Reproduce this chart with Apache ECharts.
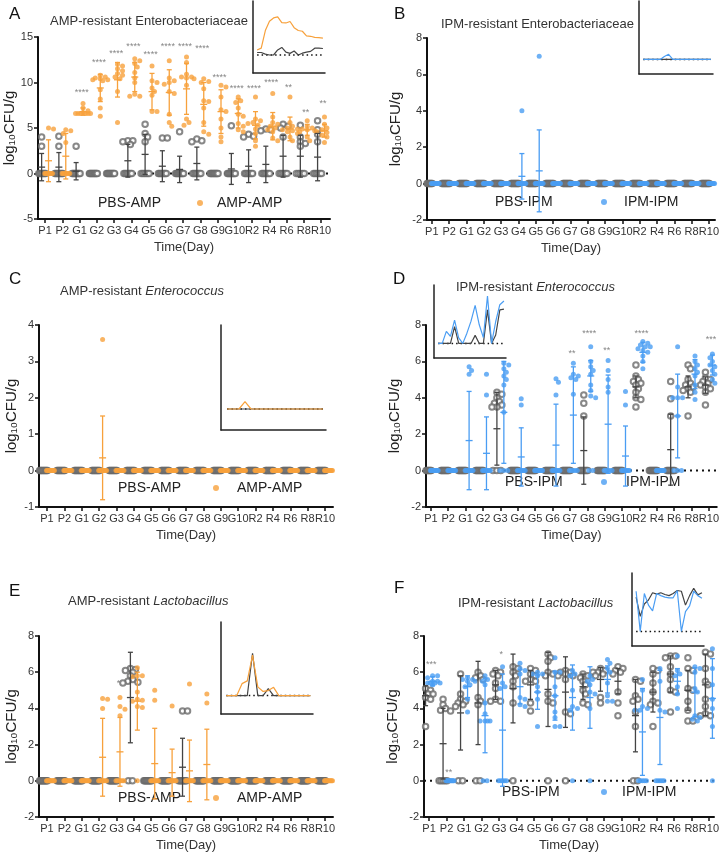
<!DOCTYPE html>
<html>
<head>
<meta charset="utf-8">
<script src="https://cdn.jsdelivr.net/npm/echarts@6/dist/echarts.min.js"></script>
<style>
html, body { margin: 0; background: #fff; }
#chart { width: 722px; height: 854px; }
</style>
</head>
<body>
<div id="chart"></div>
<script>
var days = ['P1', 'P2', 'G1', 'G2', 'G3', 'G4', 'G5', 'G6', 'G7', 'G8', 'G9', 'G10', 'R2', 'R4', 'R6', 'R8', 'R10'];

// A  AMP-resistant Enterobacteriaceae
var aPbsPts = [[4.0, 3.0], [4.1, 3.0], [3.0], [], [], [3.6, 3.6, 3.5, 3.2], [5.4, 4.4, 4.0, 3.5], [3.9, 3.9], [4.6], [3.8, 3.6, 3.5], [], [5.25], [4.3, 4.1, 4.0], [4.9, 4.8, 4.7], [5.4, 5.2, 5.0, 4.0], [5.3, 4.0, 3.5, 3.3, 3.0], [5.8, 4.8, 4.3, 3.5]];
var aPbsZeros = [8, 8, 9, 10, 10, 7, 6, 8, 9, 7, 10, 9, 7, 7, 6, 5, 6];
var aPbsMean = [0.7, 0.7, 0.25, 0, 0, 1.4, 2.1, 0.8, 0.45, 1.1, 0, 0.5, 0.8, 1.0, 1.9, 1.9, 1.8];
var aPbsSd = [1.5, 1.6, 0.95, 0, 0, 1.8, 2.2, 1.7, 1.45, 1.8, 0, 1.7, 1.8, 2.0, 2.3, 2.3, 2.6];
var aAmpPts = [[5.0, 4.9], [4.8, 4.7, 4.4, 3.4], [7.7, 7.2, 6.9, 6.7, 6.6, 6.6, 6.6, 6.6, 6.6, 6.6], [10.8, 10.6, 10.5, 10.4, 10.3, 10.3, 10.2, 9.2, 8.2, 7.2, 6.3], [12.0, 11.8, 11.5, 11.3, 11.0, 10.8, 10.6, 10.4, 9.0, 5.6], [12.6, 12.4, 12.1, 11.7, 11.1, 10.5, 10.0, 8.7, 8.5, 8.5], [11.8, 10.2, 10.0, 9.4, 9.0, 8.6, 6.8, 6.8], [12.4, 10.5, 10.2, 10.0, 9.8, 9.0, 8.8, 6.5, 5.6, 5.2], [12.8, 12.2, 10.9, 10.6, 10.6, 10.5, 10.4, 9.7, 6.0, 5.6, 5.3], [10.4, 10.1, 10.0, 9.3, 8.0, 7.9, 7.2, 5.6, 4.6, 4.3], [9.7, 9.5, 8.4, 7.0, 6.8, 6.0, 5.0, 4.0, 3.5], [8.4, 8.0, 7.8, 7.2, 6.5, 6.3, 5.5, 5.2, 4.8, 4.6], [8.4, 6.0, 5.8, 5.6, 5.5, 5.3, 4.9, 4.4, 3.6, 3.0], [8.8, 6.2, 5.6, 5.4, 5.2, 5.0, 4.8, 4.6, 3.9, 3.6], [8.4, 5.6, 5.2, 5.0, 4.9, 4.8, 4.7, 4.6, 4.4, 4.0, 3.6], [5.8, 5.2, 5.0, 4.9, 4.8, 4.7, 4.6, 4.0, 3.6], [6.2, 5.4, 5.0, 4.8, 4.7, 4.6, 4.5, 4.2, 4.0, 3.4]];
var aAmpZeros = [8, 7, 0, 0, 0, 0, 0, 0, 0, 0, 0, 0, 0, 0, 0, 0, 0];
var aAmpMean = [1.4, 1.9, 6.8, 9.4, 10.3, 10.6, 9.0, 8.9, 9.3, 7.6, 6.8, 6.6, 5.3, 5.2, 4.9, 4.8, 4.7];
var aAmpSd = [2.3, 2.5, 0.4, 1.5, 1.9, 1.6, 2.0, 2.5, 2.8, 2.4, 2.4, 1.6, 1.5, 1.5, 1.3, 0.6, 0.7];
var aStars = ['', '', '****', '****', '****', '****', '****', '****', '****', '****', '****', '****', '****', '****', '**', '**', '**'];
var aStarY = [0, 0, 8.9, 12.2, 13.2, 13.9, 13.1, 13.95, 14.0, 13.75, 10.55, 9.3, 9.3, 10.0, 9.4, 6.65, 7.65];

// B  IPM-resistant Enterobacteriaceae
var bPbsPts = [[], [], [], [], [], [], [], [], [], [], [], [], [], [], [], [], []];
var bPbsZeros = [10, 10, 10, 10, 10, 10, 10, 10, 10, 10, 10, 10, 10, 10, 10, 10, 10];
var bPbsMean = [0, 0, 0, 0, 0, 0, 0, 0, 0, 0, 0, 0, 0, 0, 0, 0, 0];
var bPbsSd = [0, 0, 0, 0, 0, 0, 0, 0, 0, 0, 0, 0, 0, 0, 0, 0, 0];
var bIpmPts = [[], [], [], [], [], [4.0], [7.0], [], [], [], [], [], [], [], [], [], []];
var bIpmZeros = [10, 10, 10, 10, 10, 9, 9, 10, 10, 10, 10, 10, 10, 10, 10, 10, 10];
var bIpmMean = [0, 0, 0, 0, 0, 0.4, 0.7, 0, 0, 0, 0, 0, 0, 0, 0, 0, 0];
var bIpmSd = [0, 0, 0, 0, 0, 1.25, 2.25, 0, 0, 0, 0, 0, 0, 0, 0, 0, 0];

// C  AMP-resistant Enterococcus
var cPbsPts = [[], [], [], [], [], [], [], [], [], [], [], [], [], [], [], [], []];
var cPbsZeros = [10, 10, 10, 10, 10, 10, 10, 10, 10, 10, 10, 10, 10, 10, 10, 10, 10];
var cPbsMean = [0, 0, 0, 0, 0, 0, 0, 0, 0, 0, 0, 0, 0, 0, 0, 0, 0];
var cPbsSd = [0, 0, 0, 0, 0, 0, 0, 0, 0, 0, 0, 0, 0, 0, 0, 0, 0];
var cAmpPts = [[], [], [], [3.6], [], [], [], [], [], [], [], [], [], [], [], [], []];
var cAmpZeros = [10, 10, 10, 9, 10, 10, 10, 10, 10, 10, 10, 10, 10, 10, 10, 10, 10];
var cAmpMean = [0, 0, 0, 0.35, 0, 0, 0, 0, 0, 0, 0, 0, 0, 0, 0, 0, 0];
var cAmpSd = [0, 0, 0, 1.15, 0, 0, 0, 0, 0, 0, 0, 0, 0, 0, 0, 0, 0];

// D  IPM-resistant Enterococcus
var dPbsPts = [[], [], [], [], [4.3, 4.2, 4.0, 3.8, 3.7, 3.6, 3.5, 3.5], [], [], [], [], [4.15, 3.7, 3.0], [], [], [5.8, 5.2, 5.0, 4.9, 4.8, 4.7, 4.5, 4.3, 4.0, 3.9, 3.5], [], [4.9, 3.95, 3.0], [5.8, 5.6, 5.0, 4.8, 4.7, 4.6, 4.5, 4.4, 4.3, 3.0], [5.4, 5.1, 5.0, 4.9, 4.8, 4.7, 4.6, 4.5, 4.3, 3.6]];
var dPbsZeros = [10, 10, 10, 10, 3, 10, 10, 10, 10, 8, 10, 10, 0, 10, 8, 0, 0];
var dPbsMean = [0, 0, 0, 0, 2.3, 0, 0, 0, 0, 1.1, 0, 0, 4.6, 0, 1.15, 4.6, 4.7];
var dPbsSd = [0, 0, 0, 0, 2.0, 0, 0, 0, 0, 1.85, 0, 0, 0.6, 0, 1.95, 0.6, 0.45];
var dIpmPts = [[], [], [5.7, 5.5, 5.3], [5.3, 4.15], [5.9, 5.8, 5.6, 5.4, 5.2, 5.0, 4.7, 3.2], [3.95, 3.6], [], [5.05, 4.85, 4.15], [5.9, 5.3, 5.2, 5.1, 5.0, 4.2], [6.8, 6.0, 5.7, 5.5, 5.3, 4.7, 4.4, 4.1, 4.0], [6.05, 5.5, 5.0, 4.6, 4.3], [4.35, 3.6], [7.1, 7.0, 6.9, 6.8, 6.8, 6.7, 6.6, 6.5, 6.3, 6.0, 5.6], [], [6.8, 4.6, 4.0, 4.0, 4.0, 3.0], [6.3, 6.0, 5.8, 5.6, 5.4, 5.2, 4.7, 4.3, 3.9], [6.4, 6.3, 6.2, 6.0, 5.9, 5.8, 5.7, 5.5, 5.3, 5.0, 4.8]];
var dIpmZeros = [10, 10, 8, 8, 3, 8, 10, 8, 5, 2, 5, 8, 0, 10, 3, 0, 0];
var dIpmMean = [0, 0, 1.65, 0.95, 3.2, 0.75, 0, 1.4, 3.05, 5.2, 2.55, 0.8, 6.5, 0, 3.0, 5.3, 5.8];
var dIpmSd = [0, 0, 2.7, 2.0, 2.8, 1.6, 0, 2.25, 2.65, 0.85, 2.7, 1.65, 0.55, 0, 2.3, 0.8, 0.55];
var dStars = ['', '', '', '', '', '', '', '', '**', '****', '**', '', '****', '', '', '', '***'];
var dStarY = [0, 0, 0, 0, 0, 0, 0, 0, 6.45, 7.55, 6.6, 0, 7.55, 0, 0, 0, 7.2];

// E  AMP-resistant Lactobacillus
var ePbsPts = [[], [], [], [], [], [6.2, 6.15, 6.1, 6.0, 5.8, 5.6, 5.5, 5.45, 5.4], [], [], [3.85, 3.85], [], [], [], [], [], [], [], []];
var ePbsZeros = [10, 10, 10, 10, 10, 2, 10, 10, 8, 10, 10, 10, 10, 10, 10, 10, 10];
var ePbsMean = [0, 0, 0, 0, 0, 4.6, 0, 0, 0.75, 0, 0, 0, 0, 0, 0, 0, 0];
var ePbsSd = [0, 0, 0, 0, 0, 2.5, 0, 0, 1.6, 0, 0, 0, 0, 0, 0, 0, 0];
var eAmpPts = [[], [], [], [4.55, 4.5, 4.0], [4.6, 4.1, 3.95, 3.6], [6.25, 5.8, 5.8, 5.75, 4.9, 4.5, 4.45, 4.4, 4.1, 4.05], [5.0, 4.45], [4.13], [5.35], [4.8, 4.3], [], [], [], [], [], [], []];
var eAmpZeros = [10, 10, 10, 7, 6, 1, 8, 9, 9, 8, 10, 10, 10, 10, 10, 10, 10];
var eAmpMean = [0, 0, 0, 1.3, 1.6, 4.4, 0.95, 0.45, 0.55, 0.9, 0, 0, 0, 0, 0, 0, 0];
var eAmpSd = [0, 0, 0, 2.15, 1.9, 1.6, 1.95, 1.3, 1.7, 1.95, 0, 0, 0, 0, 0, 0, 0];
var eStars = ['', '', '', '', '*', '', '', '', '', '', '', '', '', '', '', '', ''];
var eStarY = [0, 0, 0, 0, 5.35, 0, 0, 0, 0, 0, 0, 0, 0, 0, 0, 0, 0];

// F  IPM-resistant Lactobacillus
var fPbsPts = [[5.1, 5.0, 4.9, 4.8, 4.8, 4.7, 4.6, 4.5, 3.0], [4.5, 4.2, 4.0, 3.9, 3.85], [5.9, 4.8, 4.5, 4.4, 4.3, 4.2, 4.1], [6.0, 5.8, 5.7, 5.6, 4.6, 4.4, 4.2], [6.1, 6.0, 5.9, 5.8, 5.4, 5.1, 4.5, 4.4, 4.4], [6.3, 6.2, 6.0, 5.8, 5.5, 5.2, 4.3], [6.2, 6.1, 5.9, 5.8, 5.6, 5.5, 5.5, 4.3, 3.85], [7.0, 6.8, 6.6, 6.0, 5.9, 5.8, 4.8, 4.4, 4.3], [6.1, 6.0, 6.0, 5.9, 5.8, 5.8, 5.6, 3.8, 3.7], [5.9, 5.8, 5.7, 5.5, 5.3, 5.0, 4.8, 4.3, 4.2], [6.2, 6.1, 6.0, 6.0, 5.9, 5.8, 4.6, 4.3], [6.3, 6.2, 6.1, 6.0, 5.9, 4.9, 4.3, 3.6], [5.6, 5.5, 4.7, 4.5, 4.4, 3.8, 3.0], [6.2, 6.1, 5.9, 5.4, 4.9, 4.4, 4.3, 4.2, 3.0], [6.9, 6.9, 6.8, 6.3, 5.9, 5.6, 5.0, 4.9, 3.8], [6.8, 6.2, 6.1, 5.1, 5.0, 4.4, 3.9, 3.3, 3.3], [7.1, 7.0, 6.2, 5.5, 5.3, 4.5, 4.1, 3.7, 3.6, 3.6]];
var fPbsZeros = [0, 5, 2, 2, 0, 1, 0, 1, 1, 0, 0, 0, 2, 0, 0, 0, 0];
var fPbsMean = [4.7, 2.05, 3.75, 4.3, 5.3, 5.1, 5.3, 5.05, 4.9, 5.2, 5.6, 5.5, 3.6, 4.9, 5.9, 5.0, 5.3];
var fPbsSd = [0.55, 1.95, 2.05, 2.3, 0.8, 1.9, 0.8, 2.05, 1.95, 0.7, 0.65, 0.7, 2.0, 1.1, 1.0, 1.1, 1.7];
var fIpmPts = [[5.8, 5.8, 5.7, 5.5, 5.5, 5.4, 5.4, 5.4, 5.4, 5.3], [], [5.7, 5.6, 5.6, 5.5, 5.5, 5.3, 5.2, 4.5, 3.8], [5.8, 5.6, 5.5, 5.3, 4.3, 3.7, 3.3, 3.3, 3.3, 3.3], [6.3, 5.4, 5.2, 5.1], [6.5, 6.2, 6.1, 5.9, 4.6, 4.5, 4.2, 4.1], [6.0, 5.9, 5.9, 5.8, 5.2, 4.9, 4.5, 3.0], [6.8, 6.0, 6.0, 5.2, 4.7, 3.8, 3.5, 3.0, 3.0], [6.1, 5.9, 5.8, 5.0, 4.1, 4.0, 3.9], [5.8, 5.6, 5.5, 5.3, 4.9, 4.8, 4.0], [6.7, 6.5, 6.2, 6.0, 5.4, 4.7, 4.4, 4.4], [], [5.6, 5.0, 4.1, 4.0, 3.9, 3.9], [6.2, 5.5, 3.9, 3.8], [6.9, 6.1, 5.9, 5.8, 5.2, 4.8, 4.0], [6.3, 6.2, 6.0, 5.1, 4.9, 3.6, 3.5, 3.4, 3.3], [7.3, 7.2, 6.2, 5.3, 4.5, 4.0, 3.0]];
var fIpmZeros = [0, 10, 0, 2, 5, 0, 0, 0, 1, 1, 0, 0, 5, 5, 0, 0, 1];
var fIpmMean = [5.5, 0, 5.2, 3.6, 2.8, 5.2, 4.9, 4.7, 4.6, 4.6, 5.6, 0, 2.7, 3.5, 5.5, 4.9, 4.55];
var fIpmSd = [0.25, 0, 0.6, 2.05, 3.1, 0.95, 0.95, 1.35, 1.8, 1.7, 0.75, 0, 2.4, 2.6, 0.7, 1.35, 2.2];
var fStars = ['***', '**', '', '', '*', '', '', '', '', '', '', '', '', '', '', '', ''];
var fStarY = [6.4, 0.45, 0, 0, 6.95, 0, 0, 0, 0, 0, 0, 0, 0, 0, 0, 0, 0];

var FONT = '"Liberation Sans", Arial, sans-serif';
var ORANGE = '#f7a13c', BLUE = '#4a9df3', GREY = '#6a6a6a', DARK = '#444';

var panels = [
    {grid: {left: 38, top: 37, width: 292, height: 182}, xr: [-0.41, 16.52], yr: [-5, 15, 5], nameGap: 20,
        inset: {left: 253, top: 1, width: 72, height: 72}, ctrl: 'PBS-AMP', trt: 'AMP-AMP', color: ORANGE,
        pbs: [aPbsPts, aPbsZeros, aPbsMean, aPbsSd], tr: [aAmpPts, aAmpZeros, aAmpMean, aAmpSd],
        stars: aStars, starY: aStarY, leg: [[85, 204, 97], [200, 204, 217]]},
    {grid: {left: 427, top: 38, width: 292, height: 182}, xr: [-0.28, 16.35], yr: [-2, 8, 2], nameGap: 24,
        inset: {left: 639, top: 1, width: 74, height: 73}, ctrl: 'PBS-IPM', trt: 'IPM-IPM', color: BLUE,
        pbs: [bPbsPts, bPbsZeros, bPbsMean, bPbsSd], tr: [bIpmPts, bIpmZeros, bIpmMean, bIpmSd],
        stars: null, starY: null, leg: [[479, 203, 494], [604, 203, 624]]},
    {grid: {left: 39, top: 325, width: 294, height: 182}, xr: [-0.46, 16.46], yr: [-1, 4, 1], nameGap: 20,
        inset: {left: 221, top: 325, width: 105, height: 105}, ctrl: 'PBS-AMP', trt: 'AMP-AMP', color: ORANGE,
        pbs: [cPbsPts, cPbsZeros, cPbsMean, cPbsSd], tr: [cAmpPts, cAmpZeros, cAmpMean, cAmpSd],
        stars: null, starY: null, leg: [[96, 489, 117], [216, 489, 237]]},
    {grid: {left: 426, top: 325, width: 295, height: 182}, xr: [-0.28, 16.45], yr: [-2, 8, 2], nameGap: 24,
        inset: {left: 434, top: 285, width: 72, height: 73}, ctrl: 'PBS-IPM', trt: 'IPM-IPM', color: BLUE,
        pbs: [dPbsPts, dPbsZeros, dPbsMean, dPbsSd], tr: [dIpmPts, dIpmZeros, dIpmMean, dIpmSd],
        stars: dStars, starY: dStarY, leg: [[483, 483, 504], [604, 483, 626]]},
    {grid: {left: 39, top: 636, width: 294, height: 181}, xr: [-0.46, 16.46], yr: [-2, 8, 2], nameGap: 20,
        inset: {left: 221, top: 622, width: 92, height: 92}, ctrl: 'PBS-AMP', trt: 'AMP-AMP', color: ORANGE,
        pbs: [ePbsPts, ePbsZeros, ePbsMean, ePbsSd], tr: [eAmpPts, eAmpZeros, eAmpMean, eAmpSd],
        stars: eStars, starY: eStarY, leg: [[96, 799, 117], [216, 799, 237]]},
    {grid: {left: 424, top: 636, width: 290, height: 181}, xr: [-0.29, 16.29], yr: [-2, 8, 2], nameGap: 24,
        inset: {left: 632, top: 573, width: 72, height: 73}, ctrl: 'PBS-IPM', trt: 'IPM-IPM', color: BLUE,
        pbs: [fPbsPts, fPbsZeros, fPbsMean, fPbsSd], tr: [fIpmPts, fIpmZeros, fIpmMean, fIpmSd],
        stars: fStars, starY: fStarY, leg: [[480, 793, 501], [604, 793, 622]]}
];

var titles = [
    ['A', 9, 6, 17], ['B', 394, 6, 17], ['C', 9, 271, 17], ['D', 393, 271, 17], ['E', 9, 583, 17], ['F', 394, 580, 17],
    ['AMP-resistant Enterobacteriaceae', 50, 15, 13], ['IPM-resistant Enterobacteriaceae', 441, 18, 13],
    ['AMP-resistant {i|Enterococcus}', 60, 285, 13], ['IPM-resistant {i|Enterococcus}', 456, 281, 13],
    ['AMP-resistant {i|Lactobacillus}', 68, 595, 13], ['IPM-resistant {i|Lactobacillus}', 458, 597, 13]
];

// simple beeswarm: zeros packed in a short row, other values nudged sideways when they overlap
function swarm(vals, zeros, cx, sx, sy) {
    var out = [];
    if (zeros > 0) {
        var span = Math.min(4 * (zeros - 1), 8);
        for (var k = 0; k < zeros; k++) {
            var dx = zeros > 1 ? -span / 2 + span * k / (zeros - 1) : 0;
            out.push([cx + dx / sx, 0]);
        }
    }
    var placed = [];
    var tries = [0, 2.5, -2.5, 5, -5, 7.5, -7.5];
    vals.slice().sort(function (a, b) { return b - a; }).forEach(function (v) {
        var py = v * sy, best = 0, bestD = -1;
        for (var t = 0; t < tries.length; t++) {
            var dmin = 1e9;
            placed.forEach(function (p) {
                var ddx = p[0] - tries[t], ddy = p[1] - py;
                dmin = Math.min(dmin, Math.sqrt(ddx * ddx + ddy * ddy));
            });
            if (dmin >= 4) { best = tries[t]; bestD = dmin; break; }
            if (dmin > bestD) { bestD = dmin; best = tries[t]; }
        }
        placed.push([best, py]);
        out.push([cx + best / sx, v]);
    });
    return out;
}

function barItem(params, api) {
    var x = api.value(0), m = api.value(1), s = api.value(2);
    var top = api.coord([x, m + s]), bot = api.coord([x, m - s]), mid = api.coord([x, m]);
    var st = {stroke: api.visual('color'), lineWidth: 1.3};
    return {type: 'group', children: [
        {type: 'line', shape: {x1: top[0], y1: top[1], x2: bot[0], y2: bot[1]}, style: st},
        {type: 'line', shape: {x1: top[0] - 2.5, y1: top[1], x2: top[0] + 2.5, y2: top[1]}, style: st},
        {type: 'line', shape: {x1: bot[0] - 2.5, y1: bot[1], x2: bot[0] + 2.5, y2: bot[1]}, style: st},
        {type: 'line', shape: {x1: mid[0] - 3.5, y1: mid[1], x2: mid[0] + 3.5, y2: mid[1]}, style: st}
    ]};
}

var option = {
    backgroundColor: '#fff',
    animation: false,
    textStyle: {fontFamily: FONT},
    title: [], grid: [], xAxis: [], yAxis: [], legend: [], series: []
};

titles.forEach(function (t) {
    option.title.push({
        text: t[0], left: t[1], top: t[2], padding: 0,
        textStyle: {fontSize: t[3], fontWeight: 'normal', color: t[3] > 14 ? '#111' : '#333', fontFamily: FONT,
            rich: {i: {fontStyle: 'italic', fontSize: t[3], color: '#333', fontFamily: FONT}}}
    });
});

var idx = days.map(function (d, i) { return i; });

panels.forEach(function (P, gi) {
    var m = gi * 2, n = gi * 2 + 1;
    var g = P.grid;
    var sx = g.width / (P.xr[1] - P.xr[0]);
    var sy = g.height / (P.yr[1] - P.yr[0]);
    option.grid.push({left: g.left, top: g.top, width: g.width, height: g.height});
    option.grid.push({left: P.inset.left, top: P.inset.top, width: P.inset.width, height: P.inset.height});

    option.xAxis.push({
        type: 'value', gridIndex: m, min: P.xr[0], max: P.xr[1],
        axisLine: {onZero: false, lineStyle: {color: '#111', width: 2}},
        axisTick: {customValues: idx, length: 4, lineStyle: {color: '#111', width: 1.5}},
        axisLabel: {customValues: idx, formatter: function (v) { return days[Math.round(v)]; },
            fontSize: 11, color: '#333', margin: 6, fontFamily: FONT},
        splitLine: {show: false},
        name: 'Time(Day)', nameLocation: 'middle', nameGap: 22,
        nameTextStyle: {fontSize: 13, color: '#333', fontFamily: FONT}
    });
    option.yAxis.push({
        type: 'value', gridIndex: m, min: P.yr[0], max: P.yr[1], interval: P.yr[2],
        axisLine: {show: true, onZero: false, lineStyle: {color: '#111', width: 2}},
        axisTick: {show: true, length: 4, lineStyle: {color: '#111', width: 1.5}},
        axisLabel: {fontSize: 11, color: '#333', margin: 5, fontFamily: FONT},
        splitLine: {show: false},
        name: 'log₁₀CFU/g', nameLocation: 'middle', nameGap: P.nameGap,
        nameTextStyle: {fontSize: 15, color: '#222', fontFamily: FONT}
    });
    option.xAxis.push({
        type: 'value', gridIndex: n, min: -1, max: 16.5, show: true,
        axisLine: {onZero: false, lineStyle: {color: '#222', width: 1.5}},
        axisTick: {show: false}, axisLabel: {show: false}, splitLine: {show: false}
    });
    option.yAxis.push({
        type: 'value', gridIndex: n, min: P.yr[0], max: P.yr[1],
        axisLine: {show: true, onZero: false, lineStyle: {color: '#222', width: 1.5}},
        axisTick: {show: false}, axisLabel: {show: false}, splitLine: {show: false}
    });

    // dotted zero line
    option.series.push({
        type: 'line', xAxisIndex: m, yAxisIndex: m, data: [[P.xr[0], 0], [P.xr[1], 0]],
        symbol: 'none', silent: true, z: 1,
        lineStyle: {color: '#111', width: 2, type: [2, 4]}
    });

    var pbsData = [], trData = [];
    for (var i = 0; i < days.length; i++) {
        pbsData = pbsData.concat(swarm(P.pbs[0][i], P.pbs[1][i], i - 0.2, sx, sy));
        trData = trData.concat(swarm(P.tr[0][i], P.tr[1][i], i + 0.2, sx, sy));
    }
    option.series.push({
        type: 'scatter', name: P.ctrl, xAxisIndex: m, yAxisIndex: m, data: pbsData,
        symbol: 'emptyCircle', symbolSize: 5.5, z: 2,
        itemStyle: {color: GREY, borderWidth: 0.9}
    });
    option.series.push({
        type: 'scatter', name: P.trt, xAxisIndex: m, yAxisIndex: m, data: trData,
        symbol: 'circle', symbolSize: 5, z: 3,
        itemStyle: {color: P.color}
    });

    [[P.pbs, -0.2, DARK], [P.tr, 0.2, P.color]].forEach(function (grp) {
        var data = [];
        for (var i = 0; i < days.length; i++) {
            if (grp[0][3][i] > 0) data.push([i + grp[1], grp[0][2][i], grp[0][3][i]]);
        }
        option.series.push({
            type: 'custom', xAxisIndex: m, yAxisIndex: m, data: data, z: 4, silent: true,
            itemStyle: {color: grp[2]}, renderItem: barItem
        });
    });

    if (P.stars) {
        var sd = [];
        for (var i = 0; i < days.length; i++) {
            if (P.stars[i]) sd.push({name: P.stars[i], value: [i + 0.12, P.starY[i]]});
        }
        option.series.push({
            type: 'scatter', xAxisIndex: m, yAxisIndex: m, data: sd, symbolSize: 0, silent: true, z: 5,
            label: {show: true, position: 'inside', formatter: function (p) { return p.name; },
                fontSize: 9, color: '#666', fontFamily: FONT}
        });
    }

    // inset: group means over time
    option.series.push({
        type: 'line', xAxisIndex: n, yAxisIndex: n, data: [[0, 0], [16, 0]], symbol: 'none', silent: true,
        lineStyle: {color: '#111', width: 1.5, type: [1.5, 3]}, z: 1
    });
    option.series.push({
        type: 'line', xAxisIndex: n, yAxisIndex: n, symbol: 'none', silent: true, z: 2,
        data: P.pbs[2].map(function (v, i) { return [i, v]; }),
        lineStyle: {color: DARK, width: 1.2}
    });
    option.series.push({
        type: 'line', xAxisIndex: n, yAxisIndex: n, symbol: 'none', silent: true, z: 3,
        data: P.tr[2].map(function (v, i) { return [i, v]; }),
        lineStyle: {color: P.color, width: 1.2}
    });

    // legend, one component per entry so each sits where it is in the figure
    var items = [
        {name: P.ctrl, icon: 'emptyCircle', itemStyle: {color: '#fff', borderColor: GREY, borderWidth: 1}},
        {name: P.trt, icon: 'circle', itemStyle: {color: P.color}}
    ];
    P.leg.forEach(function (L, k) {
        option.legend.push({
            left: L[0] - 3, top: L[1] - 8, padding: 0, itemWidth: 6, itemHeight: 6, selectedMode: false,
            data: [items[k]],
            textStyle: {fontSize: 14, color: '#222', fontFamily: FONT, padding: [0, 0, 0, L[2] - L[0] - 8]}
        });
    });
});

var myChart = echarts.init(document.getElementById('chart'));
myChart.setOption(option);
</script>
</body>
</html>
